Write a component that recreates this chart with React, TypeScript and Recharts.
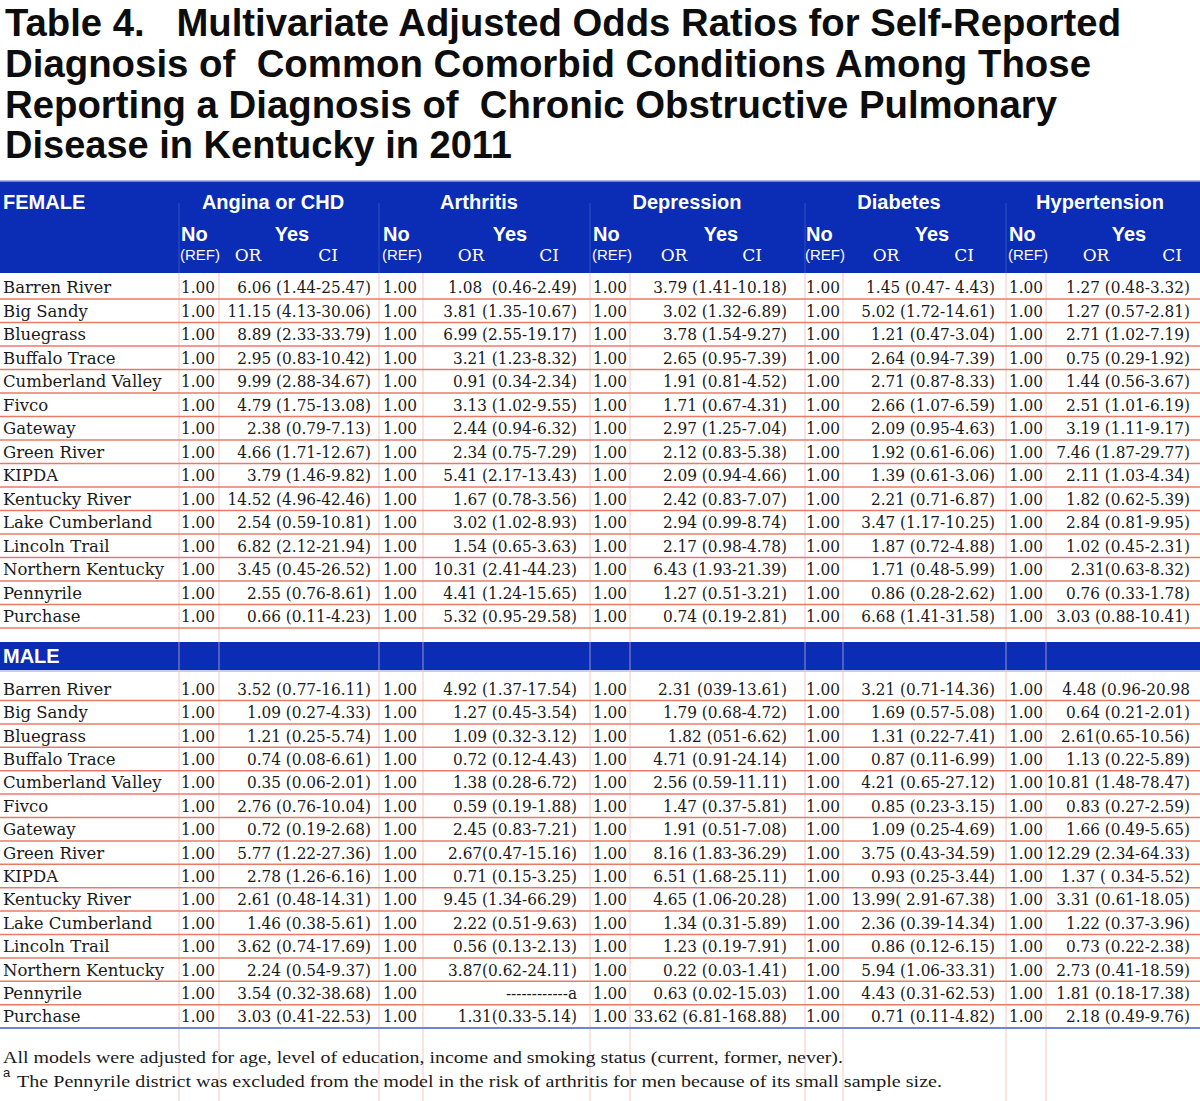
import React from "react";
import {
  ScatterChart,
  Scatter,
  XAxis,
  YAxis,
  ReferenceArea,
  ReferenceLine,
} from "recharts";

const titleLines = [
  "Table 4.   Multivariate Adjusted Odds Ratios for Self-Reported",
  "Diagnosis of  Common Comorbid Conditions Among Those",
  "Reporting a Diagnosis of  Chronic Obstructive Pulmonary",
  "Disease in Kentucky in 2011",
];

const regions = [
  "Barren River",
  "Big Sandy",
  "Bluegrass",
  "Buffalo Trace",
  "Cumberland Valley",
  "Fivco",
  "Gateway",
  "Green River",
  "KIPDA",
  "Kentucky River",
  "Lake Cumberland",
  "Lincoln Trail",
  "Northern Kentucky",
  "Pennyrile",
  "Purchase",
];

const conditions = ["Angina or CHD", "Arthritis", "Depression", "Diabetes", "Hypertension"];
const refValue = "1.00";

const femaleAngina = [
  "6.06 (1.44-25.47)", "11.15 (4.13-30.06)", "8.89 (2.33-33.79)", "2.95 (0.83-10.42)",
  "9.99 (2.88-34.67)", "4.79 (1.75-13.08)", "2.38 (0.79-7.13)", "4.66 (1.71-12.67)",
  "3.79 (1.46-9.82)", "14.52 (4.96-42.46)", "2.54 (0.59-10.81)", "6.82 (2.12-21.94)",
  "3.45 (0.45-26.52)", "2.55 (0.76-8.61)", "0.66 (0.11-4.23)",
];
const femaleArthritis = [
  "1.08  (0.46-2.49)", "3.81 (1.35-10.67)", "6.99 (2.55-19.17)", "3.21 (1.23-8.32)",
  "0.91 (0.34-2.34)", "3.13 (1.02-9.55)", "2.44 (0.94-6.32)", "2.34 (0.75-7.29)",
  "5.41 (2.17-13.43)", "1.67 (0.78-3.56)", "3.02 (1.02-8.93)", "1.54 (0.65-3.63)",
  "10.31 (2.41-44.23)", "4.41 (1.24-15.65)", "5.32 (0.95-29.58)",
];
const femaleDepression = [
  "3.79 (1.41-10.18)", "3.02 (1.32-6.89)", "3.78 (1.54-9.27)", "2.65 (0.95-7.39)",
  "1.91 (0.81-4.52)", "1.71 (0.67-4.31)", "2.97 (1.25-7.04)", "2.12 (0.83-5.38)",
  "2.09 (0.94-4.66)", "2.42 (0.83-7.07)", "2.94 (0.99-8.74)", "2.17 (0.98-4.78)",
  "6.43 (1.93-21.39)", "1.27 (0.51-3.21)", "0.74 (0.19-2.81)",
];
const femaleDiabetes = [
  "1.45 (0.47- 4.43)", "5.02 (1.72-14.61)", "1.21 (0.47-3.04)", "2.64 (0.94-7.39)",
  "2.71 (0.87-8.33)", "2.66 (1.07-6.59)", "2.09 (0.95-4.63)", "1.92 (0.61-6.06)",
  "1.39 (0.61-3.06)", "2.21 (0.71-6.87)", "3.47 (1.17-10.25)", "1.87 (0.72-4.88)",
  "1.71 (0.48-5.99)", "0.86 (0.28-2.62)", "6.68 (1.41-31.58)",
];
const femaleHypertension = [
  "1.27 (0.48-3.32)", "1.27 (0.57-2.81)", "2.71 (1.02-7.19)", "0.75 (0.29-1.92)",
  "1.44 (0.56-3.67)", "2.51 (1.01-6.19)", "3.19 (1.11-9.17)", "7.46 (1.87-29.77)",
  "2.11 (1.03-4.34)", "1.82 (0.62-5.39)", "2.84 (0.81-9.95)", "1.02 (0.45-2.31)",
  "2.31(0.63-8.32)", "0.76 (0.33-1.78)", "3.03 (0.88-10.41)",
];

const maleAngina = [
  "3.52 (0.77-16.11)", "1.09 (0.27-4.33)", "1.21 (0.25-5.74)", "0.74 (0.08-6.61)",
  "0.35 (0.06-2.01)", "2.76 (0.76-10.04)", "0.72 (0.19-2.68)", "5.77 (1.22-27.36)",
  "2.78 (1.26-6.16)", "2.61 (0.48-14.31)", "1.46 (0.38-5.61)", "3.62 (0.74-17.69)",
  "2.24 (0.54-9.37)", "3.54 (0.32-38.68)", "3.03 (0.41-22.53)",
];
const maleArthritis = [
  "4.92 (1.37-17.54)", "1.27 (0.45-3.54)", "1.09 (0.32-3.12)", "0.72 (0.12-4.43)",
  "1.38 (0.28-6.72)", "0.59 (0.19-1.88)", "2.45 (0.83-7.21)", "2.67(0.47-15.16)",
  "0.71 (0.15-3.25)", "9.45 (1.34-66.29)", "2.22 (0.51-9.63)", "0.56 (0.13-2.13)",
  "3.87(0.62-24.11)", "------------a", "1.31(0.33-5.14)",
];
const maleDepression = [
  "2.31 (039-13.61)", "1.79 (0.68-4.72)", "1.82 (051-6.62)", "4.71 (0.91-24.14)",
  "2.56 (0.59-11.11)", "1.47 (0.37-5.81)", "1.91 (0.51-7.08)", "8.16 (1.83-36.29)",
  "6.51 (1.68-25.11)", "4.65 (1.06-20.28)", "1.34 (0.31-5.89)", "1.23 (0.19-7.91)",
  "0.22 (0.03-1.41)", "0.63 (0.02-15.03)", "33.62 (6.81-168.88)",
];
const maleDiabetes = [
  "3.21 (0.71-14.36)", "1.69 (0.57-5.08)", "1.31 (0.22-7.41)", "0.87 (0.11-6.99)",
  "4.21 (0.65-27.12)", "0.85 (0.23-3.15)", "1.09 (0.25-4.69)", "3.75 (0.43-34.59)",
  "0.93 (0.25-3.44)", "13.99( 2.91-67.38)", "2.36 (0.39-14.34)", "0.86 (0.12-6.15)",
  "5.94 (1.06-33.31)", "4.43 (0.31-62.53)", "0.71 (0.11-4.82)",
];
const maleHypertension = [
  "4.48 (0.96-20.98", "0.64 (0.21-2.01)", "2.61(0.65-10.56)", "1.13 (0.22-5.89)",
  "10.81 (1.48-78.47)", "0.83 (0.27-2.59)", "1.66 (0.49-5.65)", "12.29 (2.34-64.33)",
  "1.37 ( 0.34-5.52)", "3.31 (0.61-18.05)", "1.22 (0.37-3.96)", "0.73 (0.22-2.38)",
  "2.73 (0.41-18.59)", "1.81 (0.18-17.38)", "2.18 (0.49-9.76)",
];

const femaleColumns = [femaleAngina, femaleArthritis, femaleDepression, femaleDiabetes, femaleHypertension];
const maleColumns = [maleAngina, maleArthritis, maleDepression, maleDiabetes, maleHypertension];

const notes = [
  "All models were adjusted for age, level of education, income and smoking status (current, former, never).",
  "The Pennyrile district was excluded from the model in the risk of arthritis for men because of its small sample size.",
];

// ---- layout (pixels on a 1200 x 1101 data grid) ----
const W = 1200;
const H = 1101;
const COL_LINES = [179, 219, 379, 423, 590, 630, 805, 843, 1006, 1046];
const GROUP_LINES = [179, 379, 590, 805, 1006];
const NO_X = [181, 383, 593, 806, 1009];
const YES_RIGHT = [371, 577, 787, 995, 1190];
const GROUP_X = [273, 479, 687, 899, 1100];
const YES_X = [292, 510, 721, 932, 1129];
const OR_X = [248, 471, 674, 886, 1096];
const CI_X = [328, 549, 752, 964, 1172];
const TITLE_BASE = [36, 77, 118, 158];
const TITLE_FIT = [1116, 1086, 1052, 507];
const HEAD_TOP = 181;
const HEAD_BOTTOM = 273;
const F_FIRST_LINE = 299;
const F_ROW_H = 23.5;
const MALE_TOP = 642;
const MALE_BOTTOM = 670;
const M_FIRST_LINE = 700.5;
const M_ROW_H = 23.4;

const BLUE = "#0b2cb4";
const SANS = "'Liberation Sans', Arial, sans-serif";
const SERIF = "'DejaVu Serif', serif";
const SERIF_C = "'DejaVu Serif Condensed', 'DejaVu Serif', serif";

const STYLES: Record<string, any> = {
  title: { fontFamily: SANS, fontSize: 38, fontWeight: 700, fill: "#0d0d0d" },
  band: { fontFamily: SANS, fontSize: 20, fontWeight: 700, fill: "#fff" },
  ref: { fontFamily: SANS, fontSize: 15, fill: "#fff" },
  orci: { fontFamily: SERIF, fontSize: 17, fill: "#fff" },
  label: { fontFamily: SERIF, fontSize: 16.5, fill: "#1a1a1a" },
  cell: { fontFamily: SERIF_C, fontSize: 17, fontStretch: "condensed", fill: "#1a1a1a" },
  note: { fontFamily: "'Liberation Serif', serif", fontSize: 16.5, fill: "#1a1a1a" },
  sup: { fontFamily: SANS, fontSize: 13, fill: "#1a1a1a" },
};

type Mark = { x: number; y: number; text: string; kind: string; anchor?: string; fit?: number };

function TextMark(props: any) {
  const { cx, cy, payload } = props;
  const m = payload as Mark;
  const s = STYLES[m.kind];
  return (
    <text
      x={cx}
      y={cy}
      textAnchor={m.anchor || "start"}
      textLength={m.fit}
      lengthAdjust={m.fit ? "spacingAndGlyphs" : undefined}
      style={{ whiteSpace: "pre" }}
      {...s}
    >
      {m.text}
    </text>
  );
}

const titleMarks: Mark[] = titleLines.map((t, i) => ({
  x: 5, y: TITLE_BASE[i], text: t, kind: "title", fit: TITLE_FIT[i],
}));

const headerMarks: Mark[] = [
  { x: 3, y: 209, text: "FEMALE", kind: "band" },
  { x: 3, y: 663, text: "MALE", kind: "band" },
  ...conditions.flatMap((c, i) => [
    { x: GROUP_X[i], y: 209, text: c, kind: "band", anchor: "middle" },
    { x: NO_X[i], y: 241, text: "No", kind: "band" },
    { x: YES_X[i], y: 241, text: "Yes", kind: "band", anchor: "middle" },
    { x: NO_X[i] - 1, y: 260, text: "(REF)", kind: "ref" },
    { x: OR_X[i], y: 261, text: "OR", kind: "orci", anchor: "middle" },
    { x: CI_X[i], y: 261, text: "CI", kind: "orci", anchor: "middle" },
  ]),
];

const fRowY = (r: number) => F_FIRST_LINE + r * F_ROW_H;
const mRowY = (r: number) => M_FIRST_LINE + r * M_ROW_H;

const bodyMarks = (cols: string[][], lineY: (r: number) => number, rowH: number): Mark[] =>
  regions.flatMap((name, r) => {
    const base = lineY(r) - rowH / 2 + 6;
    return [
      { x: 3, y: base, text: name, kind: "label" },
      ...cols.flatMap((col, i) => [
        { x: NO_X[i], y: base, text: refValue, kind: "cell" },
        { x: YES_RIGHT[i], y: base, text: col[r], kind: "cell", anchor: "end" },
      ]),
    ];
  });

const cellMarks: Mark[] = [
  ...bodyMarks(femaleColumns, fRowY, F_ROW_H),
  ...bodyMarks(maleColumns, mRowY, M_ROW_H),
];

const noteMarks: Mark[] = [
  { x: 3, y: 1063, text: notes[0], kind: "note", fit: 840 },
  { x: 3, y: 1077, text: "a", kind: "sup" },
  { x: 17, y: 1087, text: notes[1], kind: "note", fit: 925 },
];

export default function App() {
  const rowLines = [
    ...regions.map((_, r) => ({ y: fRowY(r), color: "#ea7a68" })),
    ...regions.map((_, r) => ({ y: mRowY(r), color: r === regions.length - 1 ? "#6f84d2" : "#ea7a68" })),
  ];
  return (
    <div style={{ position: "absolute", left: 0, top: 0, width: W, height: H, background: "#fff" }}>
      <ScatterChart width={W} height={H} margin={{ top: 0, right: 0, bottom: 0, left: 0 }}>
        <XAxis type="number" dataKey="x" domain={[0, W]} allowDataOverflow hide />
        <YAxis type="number" dataKey="y" domain={[0, H]} allowDataOverflow reversed hide />

        {/* blue bands */}
        <ReferenceArea x1={0} x2={W} y1={HEAD_TOP} y2={HEAD_BOTTOM} fill={BLUE} fillOpacity={1} stroke="none" />
        <ReferenceArea x1={0} x2={W} y1={MALE_TOP} y2={MALE_BOTTOM} fill={BLUE} fillOpacity={1} stroke="none" />
        <ReferenceLine y={HEAD_TOP} stroke="#8da0dc" strokeWidth={1.5} />
        <ReferenceLine y={MALE_BOTTOM + 1} stroke="#8da0dc" strokeWidth={1} />

        {/* column rules */}
        {COL_LINES.map((x) => (
          <ReferenceLine
            key={"v" + x}
            segment={[{ x, y: HEAD_BOTTOM }, { x, y: H }]}
            stroke="#f4c6c6"
            strokeWidth={1}
          />
        ))}
        {GROUP_LINES.map((x) => (
          <ReferenceLine
            key={"g" + x}
            segment={[{ x, y: 203 }, { x, y: HEAD_BOTTOM }]}
            stroke="#3352c4"
            strokeWidth={1}
          />
        ))}
        {COL_LINES.map((x) => (
          <ReferenceLine
            key={"m" + x}
            segment={[{ x, y: MALE_TOP }, { x, y: MALE_BOTTOM }]}
            stroke="#2546c0"
            strokeWidth={1}
          />
        ))}

        {/* row rules */}
        {rowLines.map((l, i) => (
          <ReferenceLine key={"h" + i} y={l.y} stroke={l.color} strokeWidth={i === rowLines.length - 1 ? 2 : 1.5} />
        ))}

        <Scatter data={titleMarks} shape={TextMark} isAnimationActive={false} />
        <Scatter data={headerMarks} shape={TextMark} isAnimationActive={false} />
        <Scatter data={cellMarks} shape={TextMark} isAnimationActive={false} />
        <Scatter data={noteMarks} shape={TextMark} isAnimationActive={false} />
      </ScatterChart>
    </div>
  );
}
